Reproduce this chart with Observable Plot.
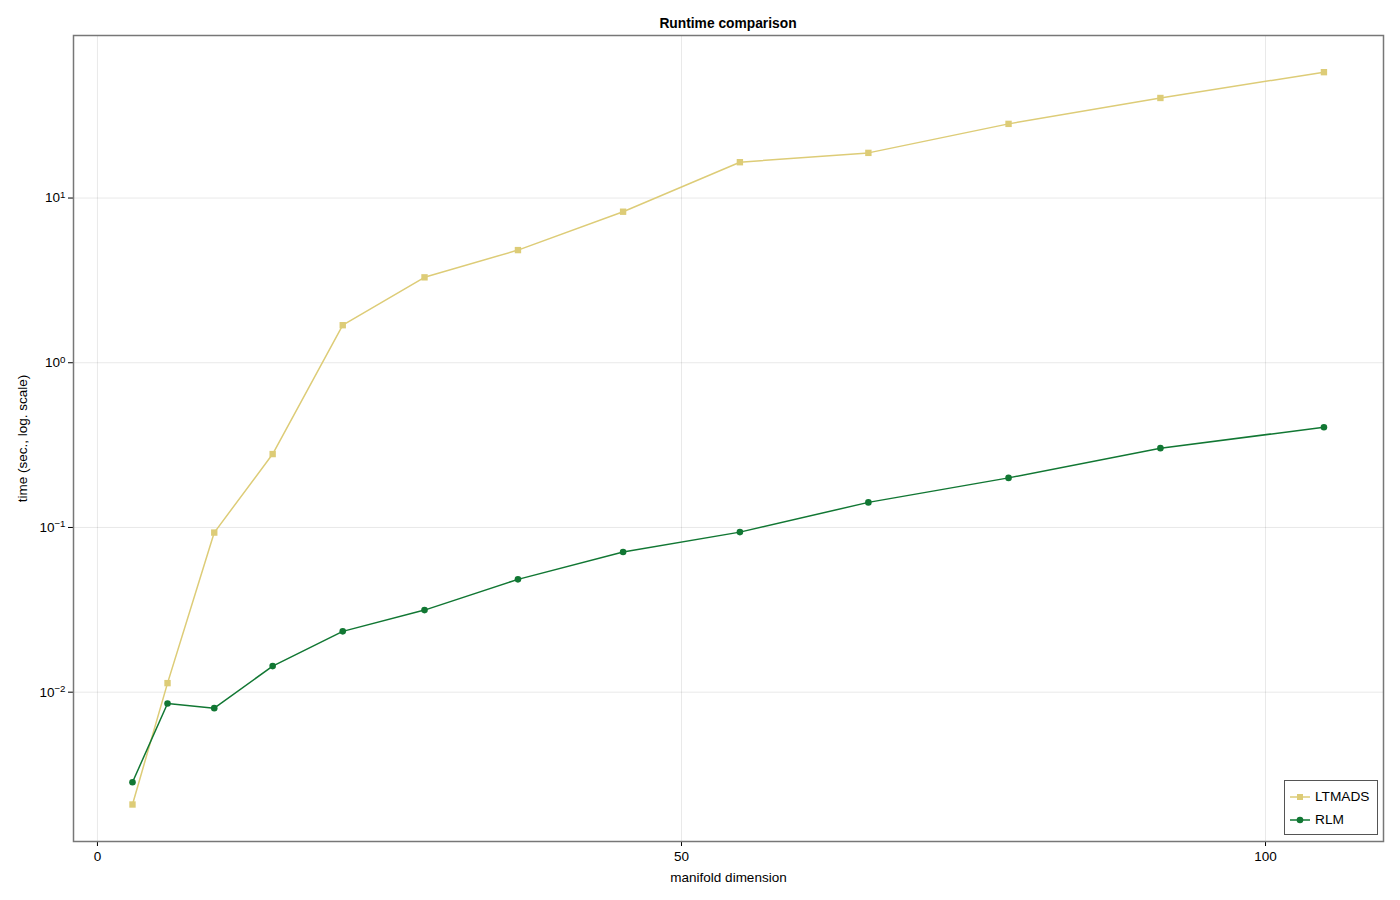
<!DOCTYPE html>
<html>
<head>
<meta charset="utf-8">
<script src="https://cdn.jsdelivr.net/npm/d3@7"></script>
<script src="https://cdn.jsdelivr.net/npm/@observablehq/plot@0.6"></script>
<style>
  html, body { margin: 0; padding: 0; background: #fff; }
  body { width: 1400px; height: 900px; position: relative; font-family: "Liberation Sans", Arial, sans-serif; overflow: hidden; }
  #title { height: 30px; box-sizing: border-box; padding: 17px 17px 0 73px; font-weight: bold; font-size: 13.8px; line-height: 14px; text-align: center; color: #000; }
  #legend { position: absolute; left: 1284px; top: 780px; width: 94px; height: 55px; box-sizing: border-box; border: 1.5px solid #555; background: #fff; }
  #legend .row { position: absolute; left: 0; height: 20px; width: 100%; }
  #legend svg { position: absolute; left: 5px; top: 0; }
  #legend span { position: absolute; left: 30px; top: 2px; font-size: 13.7px; line-height: 16px; color: #000; }
</style>
</head>
<body>
<div id="title">Runtime comparison</div>
<div id="chart"></div>
<div id="legend"></div>
<script>
const dims = [3, 6, 10, 15, 21, 28, 36, 45, 55, 66, 78, 91, 105];
const ltmads = [0.00208, 0.01135, 0.0931, 0.279, 1.69, 3.30, 4.83, 8.26, 16.5, 18.8, 28.2, 40.5, 58.1];
const rlm = [0.00284, 0.00853, 0.0080, 0.0144, 0.0234, 0.0315, 0.0484, 0.0709, 0.0937, 0.142, 0.200, 0.303, 0.406];
const seriesNames = ["LTMADS", "RLM"];
const seriesColors = ["#DDCC77", "#117733"];
const xTicks = [0, 50, 100];
const yTicks = [0.01, 0.1, 1, 10];
const yTickExponents = ["\u22122", "\u22121", "0", "1"];

const dataL = dims.map((d, i) => ({x: d, y: ltmads[i]}));
const dataR = dims.map((d, i) => ({x: d, y: rlm[i]}));

const chart = Plot.plot({
  width: 1400,
  height: 870,
  marginTop: 5,
  marginBottom: 59,
  marginLeft: 73,
  marginRight: 17,
  style: {fontFamily: "Liberation Sans, Arial, sans-serif", fontSize: "13.7px", background: "#fff", color: "#000"},
  x: {domain: [-2.05, 110.1]},
  y: {type: "log", domain: [0.00124, 97]},
  marks: [
    Plot.gridX(xTicks, {stroke: "#000", strokeOpacity: 0.09, strokeWidth: 1}),
    Plot.gridY(yTicks, {stroke: "#000", strokeOpacity: 0.09, strokeWidth: 1}),
    Plot.axisX(xTicks, {tickSize: 5, tickPadding: 5, fontSize: 13.5, stroke: "#000", label: "manifold dimension", labelAnchor: "center", labelArrow: "none", labelOffset: 40, tickFormat: d => String(d)}),
    Plot.axisY(yTicks, {tickSize: 5, tickPadding: 3, fontSize: 13.5, stroke: "#000", tickFormat: d => "10^" + yTickExponents[yTicks.indexOf(d)], label: "time (sec., log. scale)", labelAnchor: "center", labelArrow: "none", labelOffset: 56}),
    Plot.line(dataL, {x: "x", y: "y", stroke: seriesColors[0], strokeWidth: 1.5}),
    Plot.dot(dataL, {x: "x", y: "y", symbol: "square", r: 3.6, fill: seriesColors[0], stroke: "none"}),
    Plot.line(dataR, {x: "x", y: "y", stroke: seriesColors[1], strokeWidth: 1.5}),
    Plot.dot(dataR, {x: "x", y: "y", symbol: "circle", r: 3.3, fill: seriesColors[1], stroke: "none"}),
    Plot.frame({stroke: "#777", strokeWidth: 1.5})
  ]
});
document.getElementById("chart").appendChild(chart);

// render y tick labels as 10 with a raised exponent
d3.select(chart).selectAll('g[aria-label="y-axis tick label"] text').each(function() {
  const t = d3.select(this);
  const s = t.text();
  if (s.startsWith("10^")) {
    const exp = s.slice(3);
    t.text("10");
    t.append("tspan").attr("dy", "-0.45em").attr("font-size", "0.72em").text(exp);
  }
});

const legend = document.getElementById("legend");
const symbols = ["square", "circle"];
seriesNames.forEach((name, i) => {
  const row = document.createElement("div");
  row.className = "row";
  row.style.top = (6 + i * 23.3) + "px";
  const marker = symbols[i] === "square"
    ? `<rect x="7" y="7" width="6" height="6" fill="${seriesColors[i]}"/>`
    : `<circle cx="10" cy="10" r="3.3" fill="${seriesColors[i]}"/>`;
  row.innerHTML = `<svg width="20" height="20"><line x1="0" x2="20" y1="10" y2="10" stroke="${seriesColors[i]}" stroke-width="1.5"/>${marker}</svg><span>${name}</span>`;
  legend.appendChild(row);
});
</script>
</body>
</html>
